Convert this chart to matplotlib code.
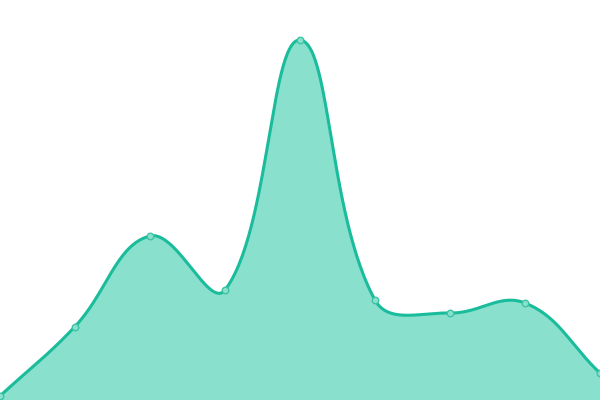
import numpy as np
import matplotlib
matplotlib.use("Agg")
import matplotlib.pyplot as plt

categories = list(range(9))
values = [4, 73.5, 164, 110, 360, 100, 87, 97, 27]

LINE = "#1abc9c"
FILL = "#88e0cd"
TENSION = 0.4
XSCALE = 75.0  # pixels per category step (data y units are already pixels)

def spline(x, y, t=TENSION, n=60):
    P = np.column_stack([np.asarray(x, float) * XSCALE, np.asarray(y, float)])
    N = len(P)
    cps = []
    for i in range(N):
        p0 = P[max(i-1, 0)]; p1 = P[i]; p2 = P[min(i+1, N-1)]
        d01 = np.hypot(*(p1-p0)); d12 = np.hypot(*(p2-p1))
        tot = d01 + d12
        s01 = d01/tot if tot else 0; s12 = d12/tot if tot else 0
        fa = t*s01; fb = t*s12
        prev = p1 - fa*(p2-p0)
        nxt = p1 + fb*(p2-p0)
        cps.append((prev, nxt))
    xs, ys = [], []
    for i in range(N-1):
        a = P[i]; b = cps[i][1]; c = cps[i+1][0]; d = P[i+1]
        tt = np.linspace(0, 1, n, endpoint=(i == N-2))[:, None]
        B = (1-tt)**3*a + 3*(1-tt)**2*tt*b + 3*(1-tt)*tt**2*c + tt**3*d
        xs.append(B[:, 0]); ys.append(B[:, 1])
    return np.concatenate(xs)/XSCALE, np.concatenate(ys)

fig = plt.figure(figsize=(6, 4), dpi=100)
ax = fig.add_axes([0, 0, 1, 1])
sx, sy = spline(categories, values)
ax.fill_between(sx, sy, 0, color=FILL, linewidth=0)
ax.plot(sx, sy, color=LINE, linewidth=2.2, solid_capstyle="round")
ax.scatter(categories, values, s=22, facecolor=FILL, edgecolor="#3cc4a4", linewidth=1, zorder=3, clip_on=False)
ax.set_xlim(0, 8)
ax.set_ylim(0, 400)
ax.axis("off")
fig.savefig("out.png", dpi=100)
